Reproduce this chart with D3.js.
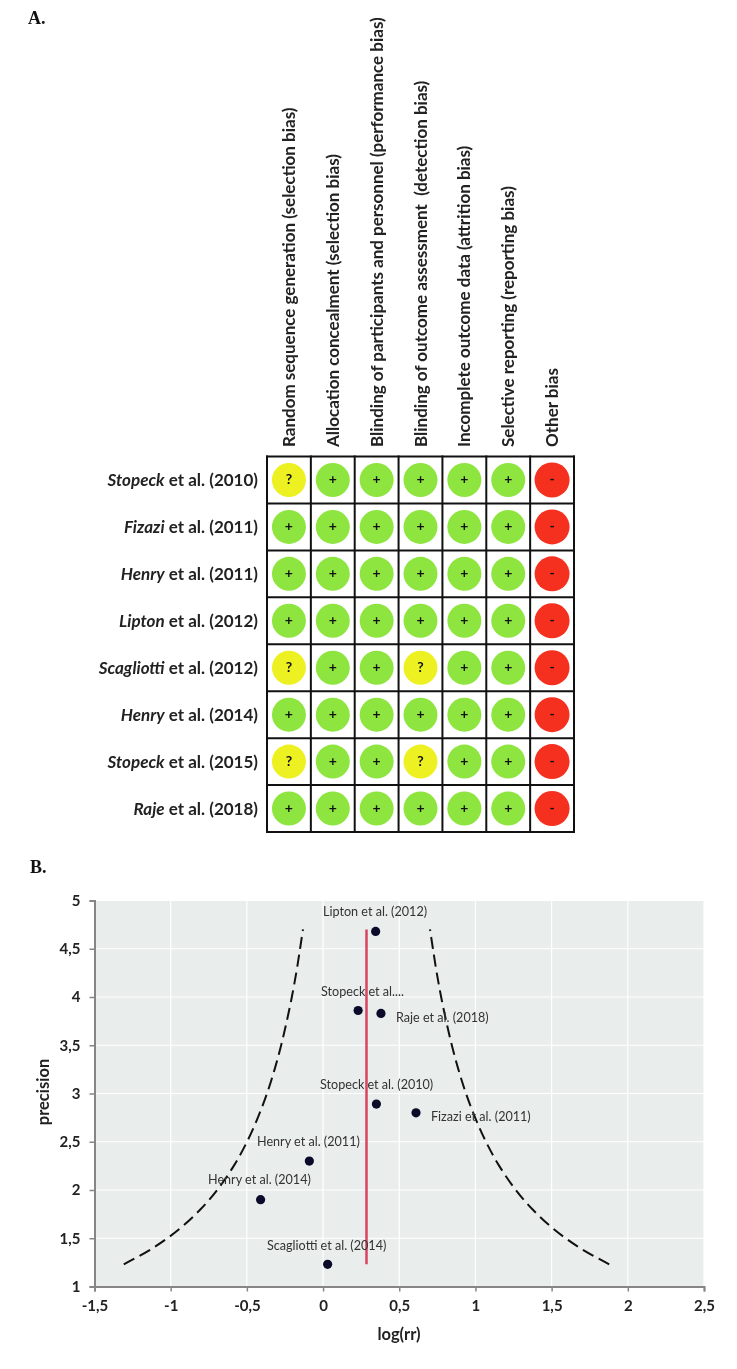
<!DOCTYPE html>
<html><head><meta charset="utf-8">
<script src="https://cdn.jsdelivr.net/npm/d3@7/dist/d3.min.js"></script>
<style>html,body{margin:0;padding:0;background:#fff}svg{display:block;filter:blur(0.35px)}</style></head>
<body><svg id="c" width="737" height="1369"></svg>
<script>
const domains=["Random sequence generation (selection bias)","Allocation concealment (selection bias)","Blinding of participants and personnel (performance bias)","Blinding of outcome assessment  (detection bias)","Incomplete outcome data (attrition bias)","Selective reporting (reporting bias)","Other bias"];
const authors=["Stopeck","Fizazi","Henry","Lipton","Scagliotti","Henry","Stopeck","Raje"];
const years=["2010","2011","2011","2012","2012","2014","2015","2018"];
const ratings=[
"?+++++-","++++++-","++++++-","++++++-","?++?++-","++++++-","?++?++-","++++++-"];
const studyNames=["Lipton et al. (2012)","Stopeck et al....","Raje et al. (2018)","Stopeck et al. (2010)","Fizazi et al. (2011)","Henry et al. (2011)","Henry et al. (2014)","Scagliotti et al. (2014)"];
const logRR=[0.345,0.23,0.38,0.35,0.61,-0.09,-0.41,0.03];
const precision=[4.68,3.86,3.83,2.89,2.8,2.3,1.9,1.23];
const funnelPrecision=[1.23,1.4,1.6,1.8,2,2.25,2.5,2.75,3,3.25,3.5,3.75,4,4.25,4.5,4.7];
const funnelLeft=[-1.308,-1.115,-0.94,-0.804,-0.695,-0.586,-0.499,-0.428,-0.368,-0.318,-0.275,-0.238,-0.205,-0.176,-0.151,-0.132];
const funnelRight=[1.878,1.685,1.51,1.374,1.265,1.156,1.069,0.998,0.938,0.888,0.845,0.808,0.775,0.746,0.721,0.702];
const pooled=0.285, pooledRange=[1.23,4.7];
const xTicks=[-1.5,-1,-0.5,0,0.5,1,1.5,2,2.5];
const yTicks=[1,1.5,2,2.5,3,3.5,4,4.5,5];

const svg=d3.select("#c");
const sans="Lato, 'Open Sans', sans-serif";
const serif="'Liberation Serif', serif";
const comma=d=>String(d).replace(".",",");

svg.append("text").attr("x",28).attr("y",24).attr("font-family",serif).attr("font-weight",700).attr("font-size",18).attr("fill","#111").text("A.");
svg.append("text").attr("x",30).attr("y",873).attr("font-family",serif).attr("font-weight",700).attr("font-size",18).attr("fill","#111").text("B.");

/* Panel A */
const col=d3.scaleBand().domain(d3.range(domains.length)).range([267,574]);
const row=d3.scaleBand().domain(d3.range(authors.length)).range([456.5,832]);
const fills={"+":"#8ee53f","?":"#edf021","-":"#f5301f"};
const g=svg.append("g");
g.selectAll("text.dom").data(domains).join("text").attr("class","dom")
 .attr("transform",(d,i)=>`translate(${col(i)+col.bandwidth()/2+6},447) rotate(-90)`)
 .attr("font-family",sans).attr("font-weight",700).attr("font-size",17).attr("fill","#222").style("white-space","pre").text(d=>d);
const cells=ratings.flatMap((r,ri)=>r.split("").map((v,ci)=>({v,ri,ci})));
g.selectAll("circle").data(cells).join("circle")
 .attr("cx",d=>col(d.ci)+col.bandwidth()/2).attr("cy",d=>row(d.ri)+row.bandwidth()/2)
 .attr("r",d=>d.v==="-"?17.5:17).attr("fill",d=>fills[d.v]);
g.selectAll("text.sym").data(cells).join("text").attr("class","sym")
 .attr("x",d=>col(d.ci)+col.bandwidth()/2).attr("y",d=>row(d.ri)+row.bandwidth()/2+4.5)
 .attr("text-anchor","middle").attr("font-family",sans).attr("font-weight",700).attr("font-size",14).attr("fill","#111").text(d=>d.v);
const vLines=d3.range(domains.length+1).map(i=>i<domains.length?col(i):574);
const hLines=d3.range(authors.length+1).map(i=>i<authors.length?row(i):832);
g.selectAll("line.v").data(vLines).join("line").attr("class","v").attr("x1",d=>d).attr("x2",d=>d).attr("y1",455.5).attr("y2",833).attr("stroke","#111").attr("stroke-width",2);
g.selectAll("line.h").data(hLines).join("line").attr("class","h").attr("y1",d=>d).attr("y2",d=>d).attr("x1",266).attr("x2",575).attr("stroke","#111").attr("stroke-width",2);
const rl=g.selectAll("text.rl").data(authors).join("text").attr("class","rl")
 .attr("x",258).attr("y",(d,i)=>row(i)+row.bandwidth()/2+6).attr("text-anchor","end")
 .attr("font-family",sans).attr("font-weight",700).attr("font-size",17).attr("fill","#222");
rl.append("tspan").attr("font-style","italic").text(d=>d);
rl.append("tspan").text((d,i)=>` et al. (${years[i]})`);

/* Panel B */
const x=d3.scaleLinear().domain([-1.5,2.5]).range([94.5,704]);
const y=d3.scaleLinear().domain([1,5]).range([1286.5,900.5]);
svg.append("rect").attr("x",x(-1.5)).attr("y",y(5)).attr("width",x(2.5)-x(-1.5)).attr("height",y(1)-y(5)).attr("fill","#e9edeb");
svg.selectAll("line.gx").data(xTicks.slice(1)).join("line").attr("class","gx").attr("x1",x).attr("x2",x).attr("y1",y(5)).attr("y2",y(1)).attr("stroke","#fff").attr("stroke-width",1.2);
svg.selectAll("line.gy").data(yTicks.slice(1)).join("line").attr("class","gy").attr("y1",y).attr("y2",y).attr("x1",x(-1.5)).attr("x2",x(2.5)).attr("stroke","#fff").attr("stroke-width",1.2);

const line=d3.line().curve(d3.curveCatmullRom).x(d=>x(d[0])).y(d=>y(d[1]));
[funnelLeft,funnelRight].forEach(s=>{
 svg.append("path").attr("d",line(s.map((v,i)=>[v,funnelPrecision[i]]))).attr("fill","none").attr("stroke","#111").attr("stroke-width",2).attr("stroke-dasharray","12 6");
});
svg.append("line").attr("x1",x(pooled)).attr("x2",x(pooled)).attr("y1",y(pooledRange[0])).attr("y2",y(pooledRange[1])).attr("stroke","#d9435f").attr("stroke-width",2.5);

svg.selectAll("circle.pt").data(logRR).join("circle").attr("class","pt").attr("cx",d=>x(d)).attr("cy",(d,i)=>y(precision[i])).attr("r",4.6).attr("fill","#0a0a2a");
const lx=[323,321,396,320,431,257,208,267], ly=[916,996,1022,1089,1121,1146,1184,1250];
svg.selectAll("text.lab").data(studyNames).join("text").attr("class","lab").attr("x",(d,i)=>lx[i]).attr("y",(d,i)=>ly[i])
 .attr("font-family",sans).attr("font-size",12.6).attr("fill","#333").text(d=>d);

function styleAxis(a){a.select(".domain").attr("stroke","#868686").attr("stroke-width",2);a.selectAll(".tick line").attr("stroke","#868686").attr("stroke-width",1.5);
 a.selectAll("text").attr("font-family",sans).attr("font-weight",700).attr("font-size",15).attr("fill","#222");}
const ax=svg.append("g").attr("transform",`translate(0,${y(1)})`).call(d3.axisBottom(x).tickValues(xTicks).tickFormat(comma).tickSize(5).tickPadding(9));
const ay=svg.append("g").attr("transform",`translate(${x(-1.5)},0)`).call(d3.axisLeft(y).tickValues(yTicks).tickFormat(comma).tickSize(5).tickPadding(9));
styleAxis(ax);styleAxis(ay);
svg.append("text").attr("x",399).attr("y",1340).attr("text-anchor","middle").attr("font-family",sans).attr("font-weight",700).attr("font-size",16.5).attr("fill","#222").text("log(rr)");
svg.append("text").attr("transform","translate(49,1092) rotate(-90)").attr("text-anchor","middle").attr("font-family",sans).attr("font-weight",700).attr("font-size",16.5).attr("fill","#222").text("precision");
</script></body></html>
